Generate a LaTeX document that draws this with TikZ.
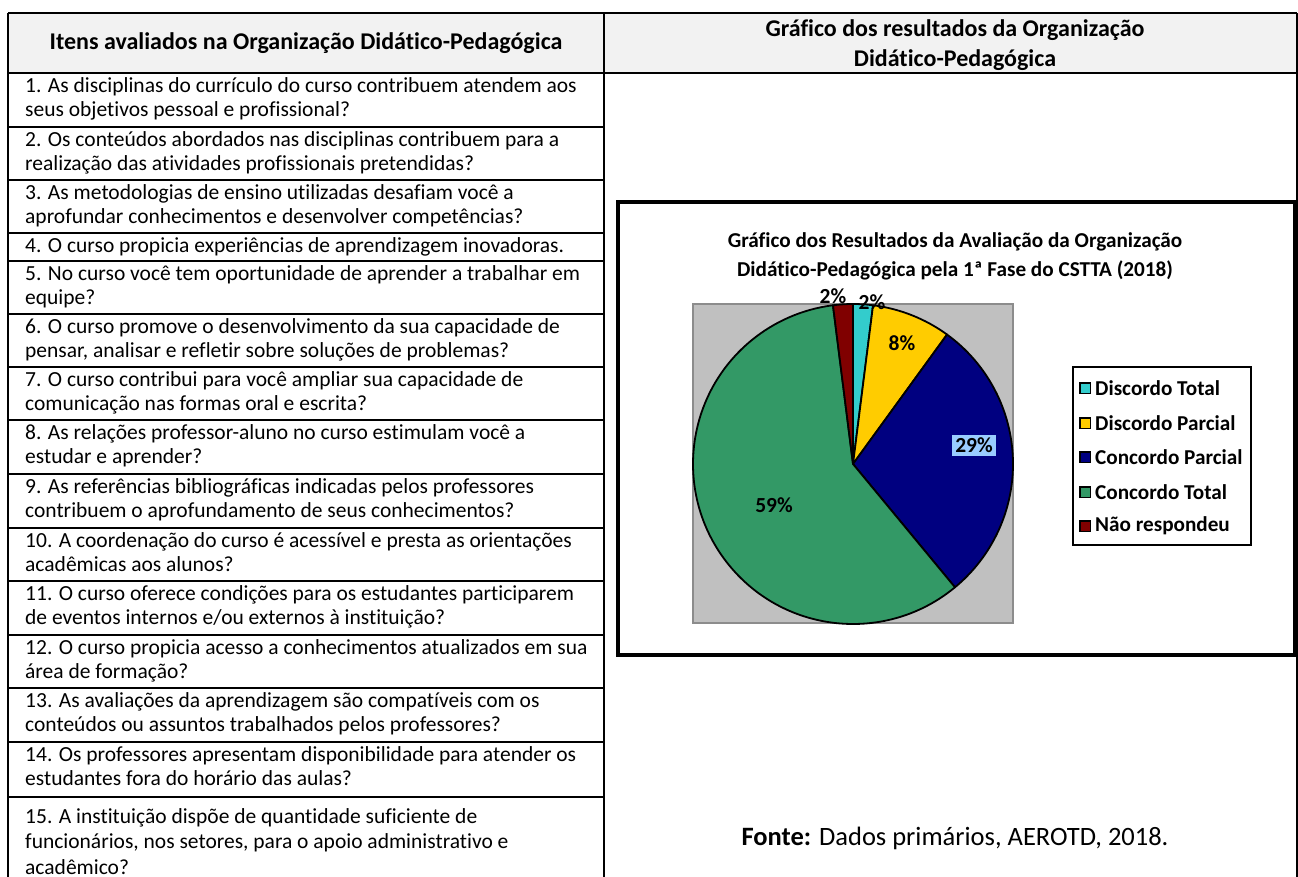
\documentclass[tikz,border=0pt]{standalone}
\usepackage{fontspec}
\setmainfont{Carlito}[Ligatures=NoCommon]
\usetikzlibrary{positioning}

\definecolor{hdrgray}{HTML}{F2F2F2}
\definecolor{plotgray}{HTML}{C0C0C0}
\definecolor{dtcol}{HTML}{33CCCC}
\definecolor{dpcol}{HTML}{FFCC00}
\definecolor{cpcol}{HTML}{000080}
\definecolor{ctcol}{HTML}{339966}
\definecolor{nrcol}{HTML}{800000}
\definecolor{lblblue}{HTML}{99CCFF}

\newcommand{\qfont}{\fontsize{21.5}{24.5}\selectfont}

\tikzset{
  qtext/.style={anchor=north west, inner sep=0pt, align=left, font=\qfont},
  rule/.style={line width=2pt},
  slice/.style={draw=black, line width=1.8pt, line join=round},
  pct/.style={font=\bfseries\fontsize{21.5}{23}\selectfont, inner sep=1pt},
  legswatch/.style={draw=black, line width=1.5pt, minimum size=10.5pt, inner sep=0pt},
  legtext/.style={font=\bfseries\fontsize{21.2}{23}\selectfont, anchor=west, inner sep=0pt},
}

\begin{document}
\begin{tikzpicture}[x=1pt,y=-1pt]
\useasboundingbox (0,0) rectangle (1298,877);

% table header
\fill[hdrgray] (8,13) rectangle (1297,73);
\node[font=\bfseries\fontsize{24}{26}\selectfont] (hleft) at (306,43) {Itens avaliados na Organização Didático-Pedagógica};
\node[font=\bfseries\fontsize{24}{30}\selectfont, align=center] (hright) at (955,45) {Gráfico dos resultados da Organização\\Didático-Pedagógica};

% items
\node[qtext] (q1) at (25,75) {\strut 1. As disciplinas do currículo do curso contribuem atendem aos\\seus objetivos pessoal e profissional?};
\node[qtext] (q2) at (25,129) {\strut 2. Os conteúdos abordados nas disciplinas contribuem para a\\realização das atividades profissionais pretendidas?};
\node[qtext] (q3) at (25,182) {\strut 3. As metodologias de ensino utilizadas desafiam você a\\aprofundar conhecimentos e desenvolver competências?};
\node[qtext] (q4) at (25,235) {\strut 4. O curso propicia experiências de aprendizagem inovadoras.};
\node[qtext] (q5) at (25,263) {\strut 5. No curso você tem oportunidade de aprender a trabalhar em\\equipe?};
\node[qtext] (q6) at (25,316) {\strut 6. O curso promove o desenvolvimento da sua capacidade de\\pensar, analisar e refletir sobre soluções de problemas?};
\node[qtext] (q7) at (25,369) {\strut 7. O curso contribui para você ampliar sua capacidade de\\comunicação nas formas oral e escrita?};
\node[qtext] (q8) at (25,422) {\strut 8. As relações professor-aluno no curso estimulam você a\\estudar e aprender?};
\node[qtext] (q9) at (25,476) {\strut 9. As referências bibliográficas indicadas pelos professores\\contribuem o aprofundamento de seus conhecimentos?};
\node[qtext] (q10) at (25,530) {\strut 10. A coordenação do curso é acessível e presta as orientações\\acadêmicas aos alunos?};
\node[qtext] (q11) at (25,583) {\strut 11. O curso oferece condições para os estudantes participarem\\de eventos internos e/ou externos à instituição?};
\node[qtext] (q12) at (25,637) {\strut 12. O curso propicia acesso a conhecimentos atualizados em sua\\área de formação?};
\node[qtext] (q13) at (25,690) {\strut 13. As avaliações da aprendizagem são compatíveis com os\\conteúdos ou assuntos trabalhados pelos professores?};
\node[qtext] (q14) at (25,744) {\strut 14. Os professores apresentam disponibilidade para atender os\\estudantes fora do horário das aulas?};
\node[qtext, font=\fontsize{21.5}{25.5}\selectfont] (q15) at (25,805) {\strut 15. A instituição dispõe de quantidade suficiente de\\funcionários, nos setores, para o apoio administrativo e\\acadêmico?};

% grid
\draw[rule] (8,13) -- (1297,13) (8,73) -- (1297,73)
  (8,13) -- (8,877) (604,13) -- (604,877) (1297,13) -- (1297,877);
\draw[rule] (8,127) -- (604,127) (8,180) -- (604,180) (8,233) -- (604,233)
  (8,261) -- (604,261) (8,314) -- (604,314) (8,367) -- (604,367)
  (8,420) -- (604,420) (8,474) -- (604,474) (8,528) -- (604,528)
  (8,581) -- (604,581) (8,635) -- (604,635) (8,688) -- (604,688)
  (8,742) -- (604,742) (8,797) -- (604,797);

% chart
\draw[line width=3.5pt] (618,202) rectangle (1295,655);
\node[font=\bfseries\fontsize{21.2}{29}\selectfont, align=center] (ctitle) at (955,256) {Gráfico dos Resultados da Avaliação da Organização\\Didático-Pedagógica pela 1ª Fase do CSTTA (2018)};
\filldraw[fill=plotgray, draw=black!45, line width=1.5pt] (693,304) rectangle (1013,623);

\coordinate (pc) at (853,464);
\filldraw[slice, fill=dtcol] (pc) -- ++(-90:160) arc[start angle=-90, end angle=-82.8, radius=160] -- cycle;
\filldraw[slice, fill=dpcol] (pc) -- ++(-82.8:160) arc[start angle=-82.8, end angle=-54, radius=160] -- cycle;
\filldraw[slice, fill=cpcol] (pc) -- ++(-54:160) arc[start angle=-54, end angle=50.4, radius=160] -- cycle;
\filldraw[slice, fill=ctcol] (pc) -- ++(50.4:160) arc[start angle=50.4, end angle=262.8, radius=160] -- cycle;
\filldraw[slice, fill=nrcol] (pc) -- ++(262.8:160) arc[start angle=262.8, end angle=270, radius=160] -- cycle;

\node[pct] (l1) at (833,296) {2\%};
\node[pct] (l2) at (872,302) {2\%};
\node[pct] (l3) at (902,343) {8\%};
\node[pct, fill=lblblue, inner sep=3pt] (l4) at (974,445) {29\%};
\node[pct] (l5) at (774,505) {59\%};

% legend
\draw[line width=2pt, fill=white] (1073,367) rectangle (1251,545);
\node[legswatch, fill=dtcol] (s1) at (1085,388) {};
\node[legtext, right=4pt of s1] (t1) {Discordo Total};
\node[legswatch, fill=dpcol] (s2) at (1085,423) {};
\node[legtext, right=4pt of s2] (t2) {Discordo Parcial};
\node[legswatch, fill=cpcol] (s3) at (1085,457) {};
\node[legtext, right=4pt of s3] (t3) {Concordo Parcial};
\node[legswatch, fill=ctcol] (s4) at (1085,492) {};
\node[legtext, right=4pt of s4] (t4) {Concordo Total};
\node[legswatch, fill=nrcol] (s5) at (1085,526) {};
\node[legtext, right=4pt of s5] (t5) {Não respondeu};

\node[font=\fontsize{26.5}{30}\selectfont] (fonte) at (955,838) {\textbf{Fonte:} Dados primários, AEROTD, 2018.};
\end{tikzpicture}
\end{document}
